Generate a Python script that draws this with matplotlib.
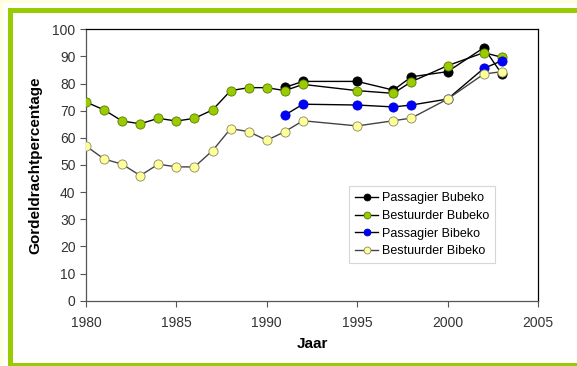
import matplotlib
matplotlib.use("Agg")
import matplotlib.pyplot as plt
from matplotlib.patches import Rectangle

plt.rcParams['font.family'] = ['Liberation Sans', 'DejaVu Sans']

# Passagier Bubeko
years_pas_bu = [1991, 1992, 1995, 1997, 1998, 2000, 2002, 2003]
pas_bu = [78.6, 80.8, 80.8, 77.6, 82.5, 84.4, 93.2, 83.5]

# Bestuurder Bubeko
years_bes = [1980, 1981, 1982, 1983, 1984, 1985, 1986, 1987, 1988, 1989,
             1990, 1991, 1992, 1995, 1997, 1998, 2000, 2002, 2003]
bes_bu = [73.2, 70.3, 66.2, 65.2, 67.2, 66.2, 67.2, 70.3, 77.4, 78.5,
          78.5, 77.4, 79.7, 77.4, 76.4, 80.7, 86.6, 91.4, 89.7]

# Passagier Bibeko
years_pas_bi = [1991, 1992, 1995, 1997, 1998, 2000, 2002, 2003]
pas_bi = [68.4, 72.4, 72.1, 71.4, 72.1, 74.3, 85.6, 88.4]

# Bestuurder Bibeko
bes_bi = [57.0, 52.2, 50.3, 46.1, 50.3, 49.3, 49.3, 55.3, 63.4, 62.3,
          59.1, 62.3, 66.3, 64.4, 66.3, 67.3, 74.3, 83.5, 84.4]

x_ticks = [1980, 1985, 1990, 1995, 2000, 2005]
y_ticks = list(range(0, 101, 10))

W, H = 577, 366
fig = plt.figure(figsize=(W / 100, H / 100), dpi=100)
fig.patch.set_facecolor('white')

def px_rect(x0, y0, x1, y1, color):
    fig.add_artist(Rectangle((x0 / W, 1 - y1 / H), (x1 - x0) / W, (y1 - y0) / H,
                             transform=fig.transFigure, facecolor=color,
                             edgecolor='none', zorder=0))

# page decoration: pale strips and green frame
px_rect(0, 0, W, 3, '#ffffdd')
px_rect(0, 0, 3, H, '#ffffdd')
px_rect(8, 8, W, 13, '#99cc00')
px_rect(8, 8, 13, H, '#99cc00')
px_rect(8, 363, W, H, '#99cc00')

ax = fig.add_axes([86 / W, 1 - 300.7 / H, (538 - 86) / W, (300.7 - 29.3) / H])
ax.set_facecolor('white')

ms = 6.6
ax.plot(years_pas_bu, pas_bu, '-o', color='black', lw=1.0, ms=ms,
        mfc='black', mec='black', mew=0.6, label='Passagier Bubeko', zorder=3)
ax.plot(years_bes, bes_bu, '-o', color='black', lw=1.0, ms=ms,
        mfc='#99cc00', mec='#5a7a00', mew=0.6, label='Bestuurder Bubeko', zorder=4)
ax.plot(years_pas_bi, pas_bi, '-o', color='black', lw=1.0, ms=ms,
        mfc='#0000ff', mec='#0000cc', mew=0.6, label='Passagier Bibeko', zorder=5)
ax.plot(years_bes, bes_bi, '-o', color='#444444', lw=1.0, ms=ms,
        mfc='#ffff99', mec='#888866', mew=0.6, label='Bestuurder Bibeko', zorder=6)

ax.set_xlim(1980, 2005)
ax.set_ylim(0, 100)
ax.set_xticks(x_ticks)
ax.set_yticks(y_ticks)
ax.tick_params(direction='out', length=4, width=0.8, color='#555555',
               labelsize=10, labelcolor='#333333')
ax.tick_params(axis='x', pad=7)
for s in ax.spines.values():
    s.set_color('black')
    s.set_linewidth(0.9)
ax.spines['left'].set_color('#555555')
ax.spines['bottom'].set_color('#555555')

ax.set_xlabel('Jaar', fontsize=11, fontweight='bold', labelpad=5)
ax.set_ylabel('Gordeldrachtpercentage', fontsize=11, fontweight='bold', labelpad=7)

leg = ax.legend(loc='upper left', bbox_to_anchor=((349 - 86) / 452, (300.7 - 186) / 271.4),
                fontsize=9, frameon=True, fancybox=False, handlelength=1.8,
                borderpad=0.5, labelspacing=0.45, handletextpad=0.3, markerscale=0.75,
                borderaxespad=0)
leg.get_frame().set_edgecolor('#cccccc')
leg.get_frame().set_linewidth(0.8)

fig.savefig('out.png', dpi=100, facecolor=fig.get_facecolor())
